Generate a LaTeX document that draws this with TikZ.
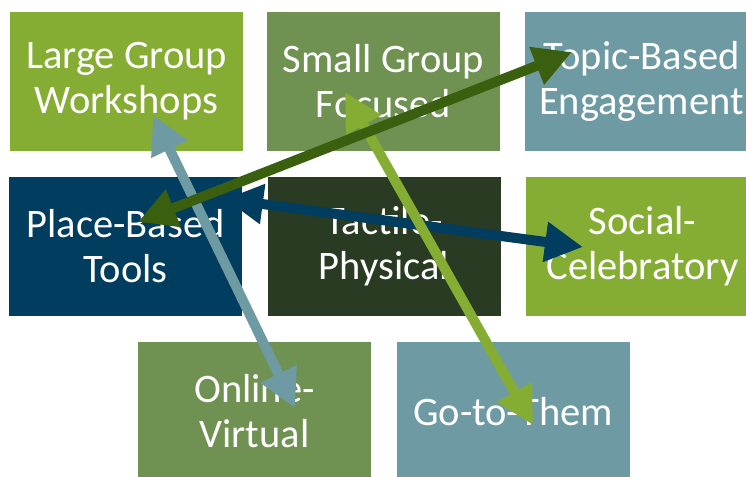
\documentclass[tikz,border=0pt]{standalone}
\usepackage{fontspec}
\setmainfont{Carlito}
\usetikzlibrary{arrows.meta}
\definecolor{cLight}{HTML}{85AD33}
\definecolor{cMed}{HTML}{6F9151}
\definecolor{cTeal}{HTML}{6E9BA3}
\definecolor{cBlue}{HTML}{013D5E}
\definecolor{cDark}{HTML}{293B22}
\definecolor{cArrowDark}{HTML}{3A5F0E}
\tikzset{
  box/.style={rectangle, inner sep=0pt, minimum width=233pt, minimum height=139pt,
    text=white, align=center, font=\fontsize{40.5}{45}\selectfont},
  dbl/.style={line width=10pt, {Triangle[length=38pt,width=38pt]}-{Triangle[length=38pt,width=38pt]}}
}
\begin{document}
\begin{tikzpicture}[x=1pt,y=-1pt]
\useasboundingbox (0,0) rectangle (746,476);
\clip (0,0) rectangle (746,476);
\node[box, fill=cLight] (lg) at (126.5,81.5) {Large Group\\Workshops};
\node[box, fill=cMed]   (sg) at (383.5,81.5) {Small Group\\Focused};
\node[box, fill=cTeal]  (tb) at (641.5,81.5) {Topic-Based\\Engagement};
\node[box, fill=cBlue]  (pb) at (125.5,246.5) {Place-Based\\Tools};
\node[box, fill=cDark]  (tp) at (384,246.5) {Tactile-\\Physical};
\node[box, fill=cLight] (sc) at (642.5,246.5) {Social-\\Celebratory};
\node[box, fill=cMed]   (ov) at (254.5,411.5) {Online-\\Virtual};
\node[box, fill=cTeal]  (gt) at (513,411.5) {Go-to-Them};
% arrow ends
\coordinate (lgA) at (153,115);
\coordinate (ovA) at (295,408);
\coordinate (sgA) at (345,92);
\coordinate (gtA) at (533,425);
\coordinate (pbA) at (225,199);
\coordinate (scA) at (583,247);
\coordinate (pbB) at (138,222);
\coordinate (tbA) at (572,52);
\draw[dbl, draw=cBlue, fill=cBlue] (pbA) -- (scA);
\draw[dbl, draw=cTeal, fill=cTeal] (lgA) -- (ovA);
\draw[dbl, draw=cLight, fill=cLight] (sgA) -- (gtA);
\draw[dbl, draw=cArrowDark, fill=cArrowDark] (pbB) -- (tbA);
\end{tikzpicture}
\end{document}
